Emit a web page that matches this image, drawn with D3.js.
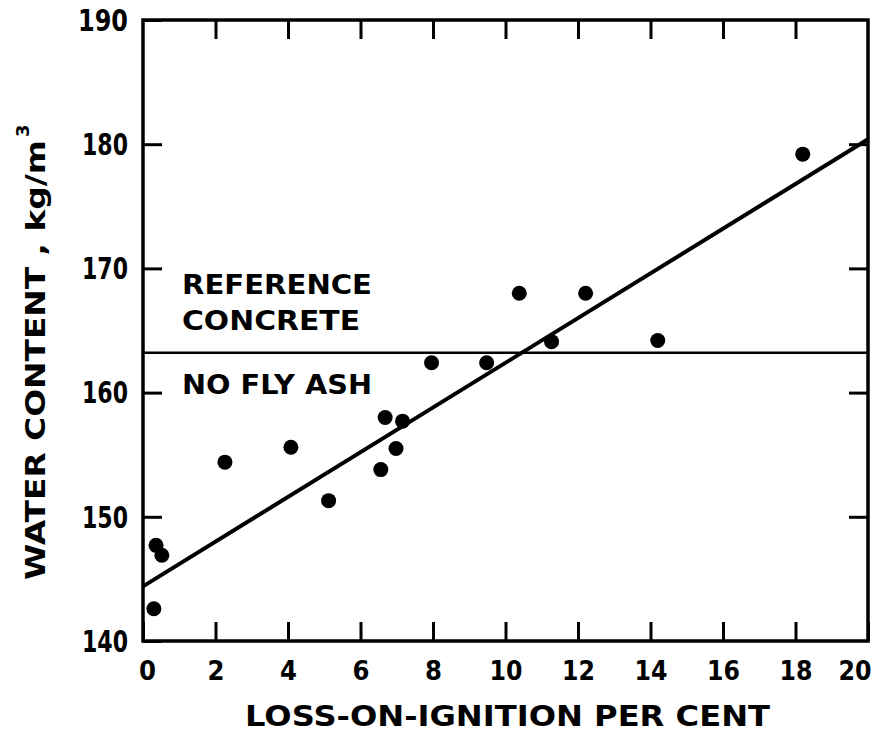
<!DOCTYPE html>
<html>
<head>
<meta charset="utf-8">
<script src="https://cdn.jsdelivr.net/npm/d3@7"></script>
<style>
  html, body { margin: 0; padding: 0; background: #fff; }
  svg { display: block; }
  text { font-family: "DejaVu Sans", "Liberation Sans", sans-serif; font-weight: bold; fill: #000; }
</style>
</head>
<body>
<svg id="chart" width="881" height="732"></svg>
<script>
// ---- data ----
const lossOnIgnition = [0.30, 0.36, 0.52, 2.26, 4.08, 5.12, 6.56, 6.68, 6.98, 7.16, 7.96, 9.48, 10.38, 11.27, 12.21, 14.20, 18.20];
const waterContent   = [142.6, 147.7, 146.9, 154.4, 155.6, 151.3, 153.8, 158.0, 155.5, 157.7, 162.4, 162.4, 168.0, 164.1, 168.0, 164.2, 179.2];
const fitLineX = [0, 20];
const fitLineY = [144.4, 180.4];
const referenceLevel = 163.2;
const xTicks = [0, 2, 4, 6, 8, 10, 12, 14, 16, 18, 20];
const yTicks = [140, 150, 160, 170, 180, 190];
const yTickLabels = ["140", "150", "160", "170", "180", "190"];
const xTitle = "LOSS-ON-IGNITION PER CENT";
const yTitle = "WATER CONTENT , kg/m";
const annotations = ["REFERENCE", "CONCRETE", "NO FLY ASH"];

(function () {
// ---- layout ----
const svg = d3.select("#chart");
const pL = 143, pR = 868, pT = 20, pB = 641;
const x = d3.scaleLinear().domain([0, 20]).range([pL, pR]);
const y = d3.scaleLinear().domain([140, 190]).range([pB, pT]);
const tickLen = 19;

// frame
svg.append("rect")
  .attr("x", pL).attr("y", pT)
  .attr("width", pR - pL).attr("height", pB - pT)
  .attr("fill", "none").attr("stroke", "#000").attr("stroke-width", 3.5);

function styleAxis(g, fontSize) {
  g.select(".domain").remove();
  g.selectAll(".tick line").attr("stroke", "#000").attr("stroke-width", 3);
  g.selectAll(".tick text").attr("font-size", fontSize)
    .attr("font-family", "'DejaVu Sans', sans-serif").attr("font-weight", "bold").attr("fill", "#000");
}

svg.append("g").attr("transform", `translate(0,${pB})`)
  .call(d3.axisBottom(x).tickValues(xTicks).tickSizeInner(-tickLen).tickSizeOuter(0).tickPadding(20).tickFormat(d3.format("d")))
  .call(g => styleAxis(g, 27))
  .call(g => {
    const t = g.selectAll(".tick text")
      .attr("textLength", d => d >= 10 ? 33 : 17).attr("lengthAdjust", "spacingAndGlyphs");
    t.filter(d => d === 0).attr("x", 4);
    t.filter(d => d === 20).attr("text-anchor", "end").attr("x", 3);
  });

svg.append("g").attr("transform", `translate(0,${pT})`)
  .call(d3.axisTop(x).tickValues(xTicks.slice(1, -1)).tickSizeInner(-tickLen).tickSizeOuter(0).tickFormat(""))
  .call(g => styleAxis(g, 24));

svg.append("g").attr("transform", `translate(${pL},0)`)
  .call(d3.axisLeft(y).tickValues(yTicks).tickSizeInner(-tickLen).tickSizeOuter(0).tickPadding(15)
    .tickFormat((d, i) => yTickLabels[i]))
  .call(g => styleAxis(g, 30))
  .call(g => g.selectAll(".tick text")
    .attr("textLength", d => d === 190 ? 50 : 46).attr("lengthAdjust", "spacingAndGlyphs")
    .attr("dy", "0.34em"));

svg.append("g").attr("transform", `translate(${pR},0)`)
  .call(d3.axisRight(y).tickValues(yTicks.slice(1, -1)).tickSizeInner(-tickLen).tickSizeOuter(0).tickFormat(""))
  .call(g => styleAxis(g, 26));

// reference line
svg.append("line")
  .attr("x1", x(0)).attr("x2", x(20))
  .attr("y1", y(referenceLevel)).attr("y2", y(referenceLevel))
  .attr("stroke", "#000").attr("stroke-width", 2.5);

// regression line
svg.append("path")
  .datum(fitLineX.map((d, i) => [d, fitLineY[i]]))
  .attr("d", d3.line().x(d => x(d[0])).y(d => y(d[1])))
  .attr("fill", "none").attr("stroke", "#000").attr("stroke-width", 4);

// points
svg.append("g").selectAll("circle")
  .data(lossOnIgnition.map((d, i) => [d, waterContent[i]]))
  .join("circle")
  .attr("cx", d => x(d[0])).attr("cy", d => y(d[1]))
  .attr("r", 7.5).attr("fill", "#000");

// annotations
const annPos = [[182, 294, 190], [182, 330, 178], [182, 394, 190]];
annotations.forEach((t, i) => {
  svg.append("text")
    .attr("x", annPos[i][0]).attr("y", annPos[i][1])
    .attr("font-size", 27)
    .attr("textLength", annPos[i][2]).attr("lengthAdjust", "spacingAndGlyphs")
    .text(t);
});

// x title
svg.append("text")
  .attr("x", 245).attr("y", 726)
  .attr("font-size", 28)
  .attr("textLength", 525).attr("lengthAdjust", "spacingAndGlyphs")
  .text(xTitle);

// y title (rotated)
const yt = svg.append("g").attr("transform", "translate(45,580) rotate(-90)");
yt.append("text")
  .attr("x", 0).attr("y", 0)
  .attr("font-size", 27)
  .attr("textLength", 440).attr("lengthAdjust", "spacingAndGlyphs")
  .text(yTitle);
yt.append("text")
  .attr("x", 443).attr("y", -16)
  .attr("font-size", 18)
  .text("3");
})();
</script>
</body>
</html>
